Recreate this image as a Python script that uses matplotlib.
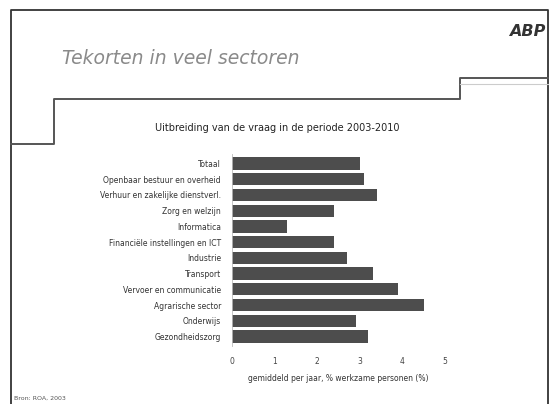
import matplotlib
matplotlib.use("Agg")
import matplotlib.pyplot as plt
from matplotlib.lines import Line2D

# sectoren en gemiddelde tekorten per jaar
sectoren = ["Totaal",
            "Openbaar bestuur en overheid",
            "Verhuur en zakelijke dienstverl.",
            "Zorg en welzijn",
            "Informatica",
            "Financiële instellingen en ICT",
            "Industrie",
            "Transport",
            "Vervoer en communicatie",
            "Agrarische sector",
            "Onderwijs",
            "Gezondheidszorg"]
tekort = [3.0, 3.1, 3.4, 2.4, 1.3, 2.4, 2.7, 3.3, 3.9, 4.5, 2.9, 3.2]
xticks = [0, 1, 2, 3, 4, 5]

W, H = 551, 404
fig = plt.figure(figsize=(W / 100, H / 100), dpi=100)

def px_line(xs, ys, color="#555555", lw=1.2):
    # lijnen van de dia in pixelcoordinaten
    fig.add_artist(Line2D([x / W for x in xs], [1 - y / H for y in ys],
                          transform=fig.transFigure, color=color, lw=lw))

# rand en trap-lijn onder de kop
px_line([11, 11, 548, 548], [404, 10, 10, 404], color="#333333", lw=1.3)
px_line([11, 54, 54, 460, 460, 548], [144, 144, 99, 99, 78, 78], color="#555555", lw=1.4)
px_line([460, 548], [84, 84], color="#cccccc", lw=0.8)

fig.text(62 / W, 1 - 58 / H, "Tekorten in veel sectoren", fontsize=13.5,
         style="italic", color="#8a8a8a", va="center", ha="left")
fig.text(545 / W, 1 - 31 / H, "ABP", fontsize=11.5, fontweight="bold",
         style="italic", color="#333333", va="center", ha="right")
fig.text(277 / W, 1 - 128 / H, "Uitbreiding van de vraag in de periode 2003-2010",
         fontsize=7, color="#222222", ha="center", va="center")
fig.text(14 / W, 1 - 398 / H, "Bron: ROA, 2003", fontsize=4.5,
         color="#555555", ha="left", va="center")

ax = fig.add_axes([232 / W, 1 - 346 / H, 213 / W, 192 / H])
pos = list(range(len(sectoren)))
ax.barh(pos, tekort, height=0.78, color="#4d4d4d")
ax.set_ylim(11.6, -0.6)
ax.set_xlim(0, 5)
ax.set_xticks(xticks)
ax.set_yticks(pos)
ax.set_yticklabels(sectoren, fontsize=5.5, color="#333333")
ax.tick_params(axis="x", labelsize=5.5, labelcolor="#444444", length=0, pad=8)
ax.tick_params(axis="y", length=0, pad=8)
for s in ["top", "right", "bottom"]:
    ax.spines[s].set_visible(False)
ax.spines["left"].set_color("#bbbbbb")
ax.spines["left"].set_linewidth(0.6)
ax.set_xlabel("gemiddeld per jaar, % werkzame personen (%)", fontsize=5.5,
              color="#333333", labelpad=6)

fig.savefig("out.png", dpi=100)
